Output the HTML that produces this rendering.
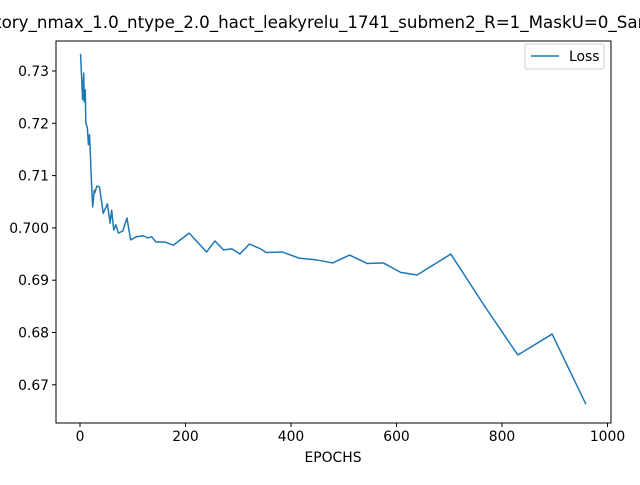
<!DOCTYPE html>
<html><head><meta charset="utf-8"><style>
body{margin:0;background:#fff;overflow:hidden;}
svg{font-family:"DejaVu Sans","Liberation Sans",sans-serif;}
</style></head><body>
<svg id="c" width="640" height="480"></svg>
<script>
const epochs=[1,5,7,8,10,11,14,16,18,19,21,24,27,28,32,37,44,52,57,60,64,68,73,81,89,96,107,120,128,136,144,161,177,207,240,256,272,288,303,321,340,353,383,416,447,479,511,544,575,608,639,703,768,830,895,959];
const loss=[0.7333,0.7245,0.7296,0.7241,0.7264,0.7201,0.7191,0.7159,0.7178,0.7159,0.7105,0.7040,0.7072,0.7067,0.7080,0.7078,0.7028,0.7046,0.7009,0.7034,0.6996,0.7006,0.6990,0.6994,0.7019,0.6977,0.6983,0.6985,0.6981,0.6983,0.6973,0.6973,0.6967,0.6990,0.6954,0.6975,0.6958,0.6960,0.6950,0.6969,0.6961,0.6953,0.6954,0.6942,0.6939,0.6933,0.6948,0.6932,0.6933,0.6915,0.6910,0.6950,0.6849,0.6757,0.6797,0.6663];
const xTicks=[0,200,400,600,800,1000];
const yTicks=[0.67,0.68,0.69,0.70,0.71,0.72,0.73];
const yLabels=["0.67","0.68","0.69","0.700","0.71","0.72","0.73"];
const L=56,R=611,T=41,B=423;
const X=v=>80+v*0.5275;
const Y=v=>71+(0.73-v)*5230;
const s=document.getElementById('c');
const NS='http://www.w3.org/2000/svg';
function mk(t,a,p){const e=document.createElementNS(NS,t);for(const k in a)e.setAttribute(k,a[k]);(p||s).appendChild(e);return e;}
const title=mk('text',{x:333,y:28,'text-anchor':'middle','font-size':16.7,fill:'#000'});
title.textContent='history_nmax_1.0_ntype_2.0_hact_leakyrelu_1741_submen2_R=1_MaskU=0_Sampling';


const fr=mk('rect',{x:L,y:T,width:R-L,height:B-T,fill:'none',stroke:'#000','stroke-width':1});


xTicks.forEach(v=>{const x=X(v);mk('line',{x1:x,x2:x,y1:B,y2:B+4,stroke:'#000'});
const t=mk('text',{x:x,y:B+18,'text-anchor':'middle','font-size':13.9});t.textContent=v;

});
yTicks.forEach((v,i)=>{const y=Y(v);mk('line',{x1:L-4,x2:L,y1:y,y2:y,stroke:'#000'});
const t=mk('text',{x:L-7,y:y+5,'text-anchor':'end','font-size':13.9});t.textContent=yLabels[i];

});
const xl=mk('text',{x:333,y:462,'text-anchor':'middle','font-size':13.9});xl.textContent='EPOCHS';


const ln=mk('polyline',{points:epochs.map((e,i)=>X(e)+','+Y(loss[i])).join(' '),fill:'none',stroke:'#1f77b4','stroke-width':1.5,'stroke-linejoin':'round'});


const lg=mk('g',{});


mk('rect',{x:525,y:44,width:79,height:25,rx:2,fill:'#fff',stroke:'#ccc'},lg);
mk('line',{x1:531,x2:559,y1:56,y2:56,stroke:'#1f77b4','stroke-width':1.5},lg);
const lt=mk('text',{x:569,y:61,'font-size':13.9},lg);lt.textContent='Loss';


</script>
</body></html>
